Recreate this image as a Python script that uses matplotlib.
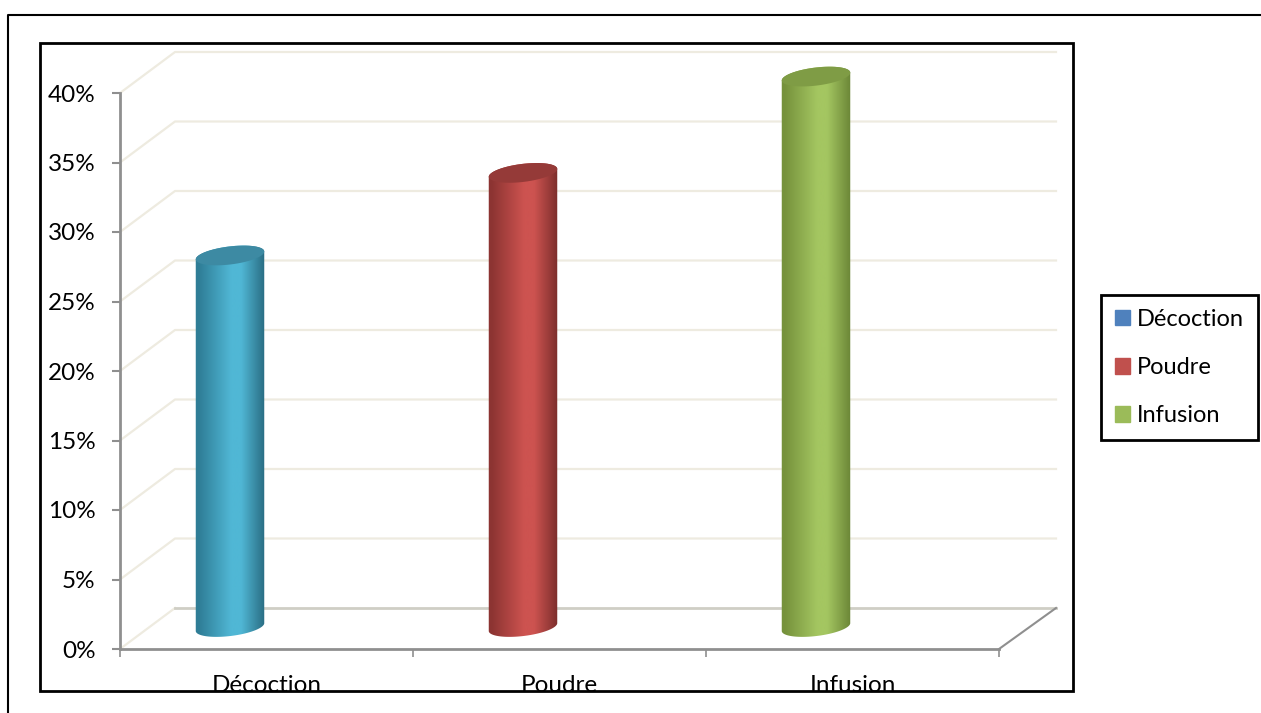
import numpy as np
import matplotlib
matplotlib.use("Agg")
import matplotlib.pyplot as plt
from matplotlib.colors import LinearSegmentedColormap
from matplotlib.patches import Patch, PathPatch, Rectangle
from matplotlib.path import Path
from matplotlib.transforms import Bbox

plt.rcParams['font.family'] = ['Lato', 'DejaVu Sans']

categories = ["Décoction", "Poudre", "Infusion"]
values = [27, 33, 40]
y_ticks = [0, 5, 10, 15, 20, 25, 30, 35, 40]

legend_colors = ["#4f81bd", "#c0504d", "#9bbb59"]
edge_left = ["#2f7d96", "#8c3432", "#76923c"]
edge_right = ["#2a6d83", "#7c2e2c", "#6b8637"]
mid_colors = ["#50b7d5", "#cd5350", "#a4c661"]
top_colors = ["#3d8aa3", "#953a38", "#7f9c45"]

W, H = 1261, 713
y_max = 44
px_x = 879 / 3
px_y = 556 / 40

# the axes reach above 40% so the tallest cylinder and the back wall stay inside
fig = plt.figure(figsize=(W / 100, H / 100), dpi=100)
ax = fig.add_axes([120 / W, 1 - 649 / H, 879 / W, y_max * px_y / H])
ax.set_xlim(0, 3)
ax.set_ylim(0, y_max)

depth_x = 55 / px_x
depth_y = 41 / px_y

# back wall grid with its slanted part on the side wall
wall_right = 3 + 57 / px_x
for v in y_ticks[1:]:
    ax.plot([0, depth_x, wall_right], [v, v + depth_y, v + depth_y],
            color="#eeebe0", lw=1.6, clip_on=False, zorder=1)
ax.plot([0, depth_x], [0, depth_y], color="#eeebe0", lw=1.6, clip_on=False, zorder=1)
ax.plot([depth_x, wall_right], [depth_y, depth_y], color="#cfcec5", lw=2, clip_on=False, zorder=1)
ax.plot([3, wall_right], [0, depth_y], color="#8f8f8f", lw=1.5, clip_on=False, zorder=1)


def ellipse_points(cx, cy, start, end, n=60):
    # tilted ellipse, returned in data coordinates
    t = np.linspace(start, end, n)
    a, b, tilt = 34.5, 9, np.radians(7)
    px = a * np.cos(t) * np.cos(tilt) - b * np.sin(t) * np.sin(tilt)
    py = a * np.cos(t) * np.sin(tilt) + b * np.sin(t) * np.cos(tilt)
    return cx + px / px_x, cy + py / px_y


# cylinders
base_y = 22 / px_y
scale = 0.99
half = 35 / px_x
for i, v in enumerate(values):
    cx = i + 0.5 - 36.5 / px_x
    top = base_y + v * scale

    # outline running bottom arc, right side, top arc, left side
    lower_x, lower_y = ellipse_points(cx, base_y, np.pi, 2 * np.pi)
    upper_x, upper_y = ellipse_points(cx, top, 0, np.pi)
    verts = np.column_stack([np.r_[lower_x, upper_x], np.r_[lower_y, upper_y]])
    body = Path(np.vstack([verts, verts[0]]), closed=True)

    cmap = LinearSegmentedColormap.from_list(
        "cyl", [(0, edge_left[i]), (0.05, edge_left[i]), (0.52, mid_colors[i]),
                (0.66, mid_colors[i]), (1, edge_right[i])])
    im = ax.imshow(np.linspace(0, 1, 200).reshape(1, -1), cmap=cmap, aspect="auto",
                   extent=[cx - half, cx + half, 0, top + 2],
                   zorder=3, interpolation="bilinear")
    im.set_clip_path(PathPatch(body, transform=ax.transData))

    cap_x, cap_y = ellipse_points(cx, top, 0, 2 * np.pi)
    ax.fill(cap_x, cap_y, color=top_colors[i], lw=0, zorder=4, clip_on=False)

ax.set_xlim(0, 3)
ax.set_ylim(0, y_max)

for side in ["top", "right"]:
    ax.spines[side].set_visible(False)
for side in ["left", "bottom"]:
    ax.spines[side].set_color("#8f8f8f")
    ax.spines[side].set_linewidth(2)
ax.spines["left"].set_bounds(0, 40)
ax.patch.set_alpha(0)

ax.set_yticks(y_ticks)
ax.set_yticklabels([f"{v}%" for v in y_ticks])
ax.set_xticks([0, 1, 2, 3])
ax.set_xticklabels([])
ax.set_xticks([0.5, 1.5, 2.5], minor=True)
ax.set_xticklabels(categories, minor=True)
ax.tick_params(axis="y", length=5.5, width=1.5, color="#8f8f8f", pad=12, labelsize=17.5, labelcolor="black")
ax.tick_params(axis="x", which="major", length=5.5, width=1.2, color="#8f8f8f")
ax.tick_params(axis="x", which="minor", length=0, pad=19, labelsize=17.5, labelcolor="black")

# the chart frame cuts off the bottom of the category labels
clip = Bbox([[0, H - 691], [W, H]])
for label in ax.get_xticklabels(minor=True):
    label.set_clip_on(True)
    label.set_clip_box(clip)

# outer page frame, open towards the right and bottom edges
fig.add_artist(plt.Line2D([8 / W, 8 / W, 1], [0, 1 - 15 / H, 1 - 15 / H], color="black", lw=1.5))
# chart frame
fig.add_artist(Rectangle((40 / W, 1 - 691 / H), 1033 / W, 648 / H, fill=False,
                         edgecolor="black", lw=2, transform=fig.transFigure))

handles = [Patch(color=c, label=n) for c, n in zip(legend_colors, categories)]
leg = fig.legend(handles=handles, loc="center left", bbox_to_anchor=(1101 / W, 1 - 367.5 / H),
                 fontsize=17, frameon=True, fancybox=False, edgecolor="black", framealpha=1,
                 handlelength=0.64, handleheight=0.64, handletextpad=0.3,
                 labelspacing=1.15, borderpad=0.58, borderaxespad=0)
leg.get_frame().set_linewidth(2)

fig.savefig("out.png", dpi=100)
